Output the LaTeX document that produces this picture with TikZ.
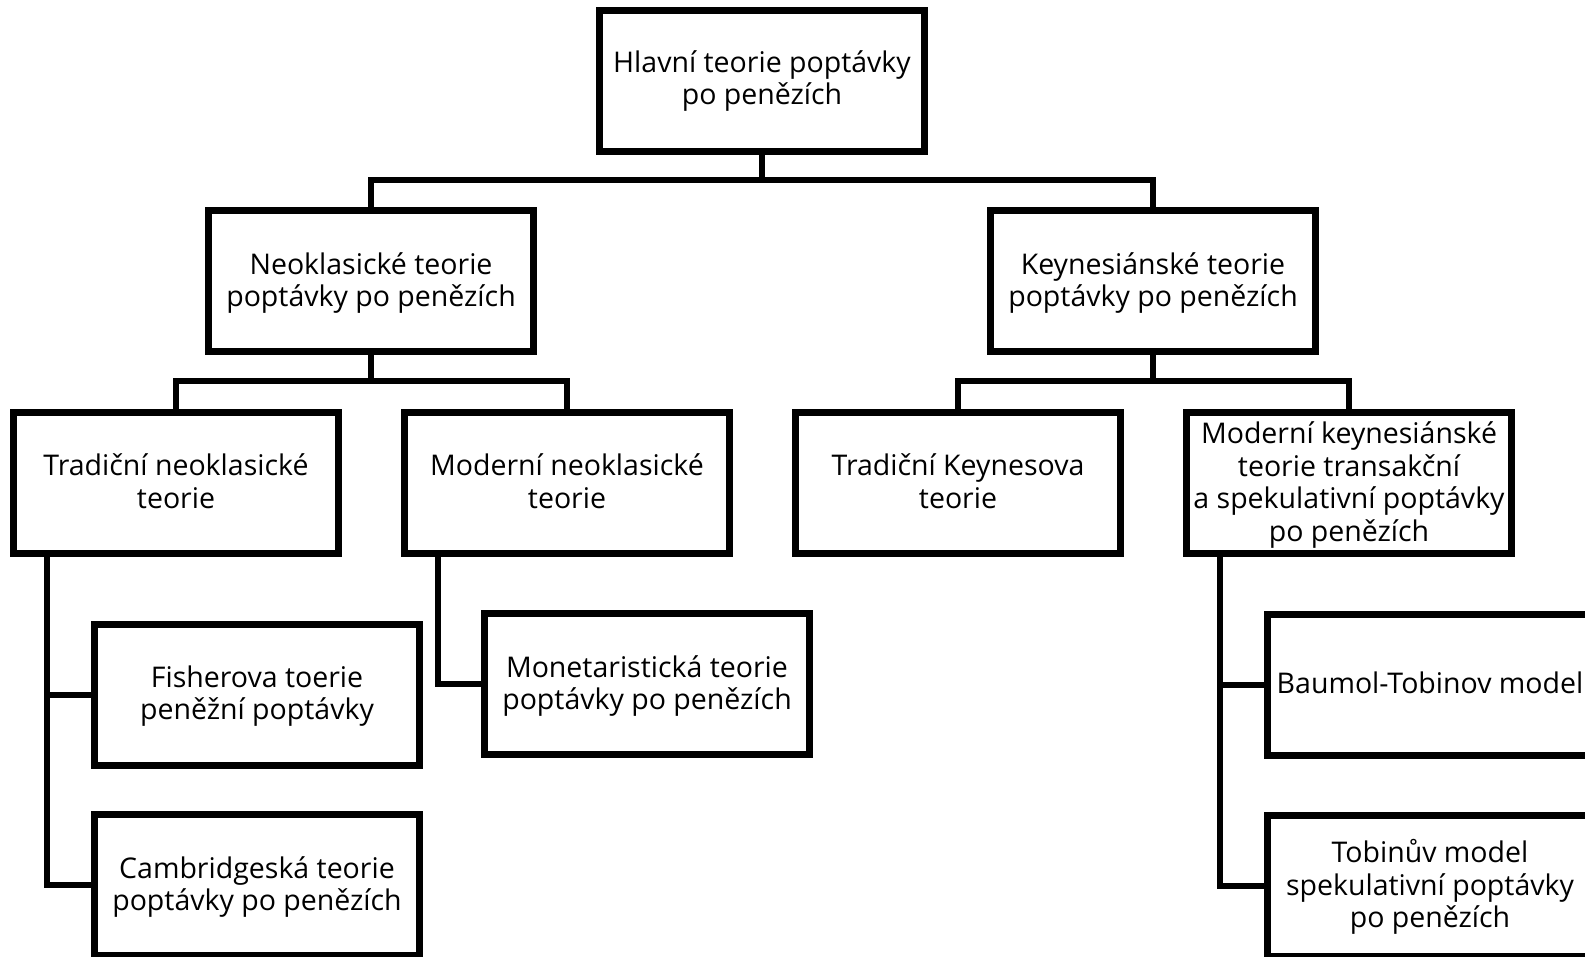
\documentclass[tikz,border=0pt]{standalone}
\usepackage{fontspec}
\setmainfont{Open Sans}
\begin{document}
\begin{tikzpicture}[x=1pt,y=-1pt,
  box/.style={draw=black,line width=6.5pt,minimum width=325pt,minimum height=141pt,inner sep=0pt,fill=white},
  lbl/.style={align=center,font=\fontsize{28.5}{32.5}\selectfont,text=black,inner sep=0pt},
  conn/.style={draw=black,line width=6.5pt,line join=miter}]
\useasboundingbox (0,0) rectangle (1585,957);
\fill[white] (0,0) rectangle (1585,957);
\begin{scope}
\clip (0,0) rectangle (1585,957);
\coordinate (b1) at (762,180);
\coordinate (b2) at (371,381);
\coordinate (b3) at (1153,381);
\coordinate (v1) at (47,555);
\coordinate (v2) at (438,555);
\coordinate (v3) at (1220,555);
\node[box] (top) at (762,81) {};
\node[box] (neo) at (371,281) {};
\node[box] (key) at (1153,281) {};
\node[box] (tn) at (176,483) {};
\node[box] (mn) at (567,483) {};
\node[box] (tk) at (958,483) {};
\node[box] (mk) at (1349,483) {};
\node[box] (fis) at (257,695) {};
\node[box] (cam) at (257,885) {};
\node[box] (mon) at (647,684) {};
\node[box] (bau) at (1430,685) {};
\node[box] (tob) at (1430,886) {};
\draw[conn] (top.south) -- (b1);
\draw[conn] (neo.north) |- (b1) -| (key.north);
\draw[conn] (neo.south) -- (b2);
\draw[conn] (tn.north) |- (b2) -| (mn.north);
\draw[conn] (key.south) -- (b3);
\draw[conn] (tk.north) |- (b3) -| (mk.north);
\draw[conn] (v1) |- (fis.west);
\draw[conn] (v1) |- (cam.west);
\draw[conn] (v2) |- (mon.west);
\draw[conn] (v3) |- (bau.west);
\draw[conn] (v3) |- (tob.west);
% labels
\node[lbl] (ttop) at (top) [yshift=0pt] {Hlavní teorie poptávky\\po penězích};
\node[lbl] (tneo) at (neo) [yshift=-2pt] {Neoklasické teorie\\poptávky po penězích};
\node[lbl] (tkey) at (key) [yshift=-2pt] {Keynesiánské teorie\\poptávky po penězích};
\node[lbl] (ttn) at (tn) [yshift=2pt] {Tradiční neoklasické\\teorie};
\node[lbl] (tmn) at (mn) [yshift=2pt] {Moderní neoklasické\\teorie};
\node[lbl] (ttk) at (tk) [yshift=2pt] {Tradiční Keynesova\\teorie};
\node[lbl] (tmk) at (mk) [yshift=-2pt] {Moderní keynesiánské\\teorie transakční\\a spekulativní poptávky\\po penězích};
\node[lbl] (tfis) at (fis) [yshift=-1pt] {Fisherova toerie\\peněžní poptávky};
\node[lbl] (tcam) at (cam) [yshift=-2pt] {Cambridgeská teorie\\poptávky po penězích};
\node[lbl] (tmon) at (mon) [yshift=-2pt] {Monetaristická teorie\\poptávky po penězích};
\node[lbl] (tbau) at (bau) [yshift=2pt] {Baumol-Tobinov model};
\node[lbl] (ttob) at (tob) [yshift=-1pt] {Tobinův model\\spekulativní poptávky\\po penězích};
\end{scope}
\end{tikzpicture}
\end{document}
